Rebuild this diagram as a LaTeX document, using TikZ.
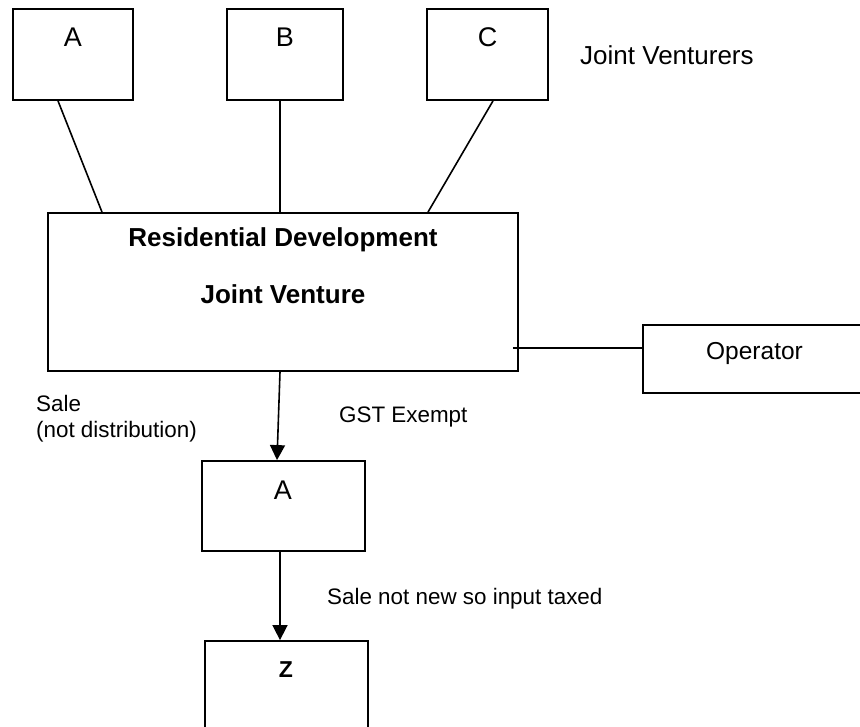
\documentclass[tikz,border=0pt]{standalone}
\usepackage{fontspec}
\setmainfont{Liberation Sans}
\usetikzlibrary{arrows.meta}
\begin{document}
\begin{tikzpicture}[x=1pt,y=-1pt,
  box/.style={draw=black, line width=1.8pt, rectangle, inner sep=0pt, fill=none},
  big/.style={font=\fontsize{27}{32}\selectfont, inner sep=0pt, anchor=base},
  jvtext/.style={font=\fontsize{26}{31}\selectfont\bfseries, inner sep=0pt, anchor=base},
  note/.style={font=\fontsize{22.4}{26}\selectfont, inner sep=0pt, anchor=base west},
  link/.style={draw=black, line width=1.6pt},
  flow/.style={link, -{Triangle[length=15pt,width=15pt]}}]
\useasboundingbox[fill=white] (0,0) rectangle (860,727);

% joint venturers
\node[box, minimum width=120pt, minimum height=91pt] (a) at (73,54.5) {};
\node[box, minimum width=116pt, minimum height=91pt] (b) at (285,54.5) {};
\node[box, minimum width=121pt, minimum height=91pt] (c) at (487.5,54.5) {};
\node[big] (aT) at (73,47) {A};
\node[big] (bT) at (285,47) {B};
\node[big] (cT) at (487.5,47) {C};
\node[font=\fontsize{26}{31}\selectfont, inner sep=0pt, anchor=base west] (jvers) at (580,65) {Joint Venturers};

% the joint venture
\node[box, minimum width=470pt, minimum height=158pt] (jv) at (283,292) {};
\node[jvtext] (jvT1) at (283,247) {Residential Development};
\node[jvtext] (jvT2) at (283,304) {Joint Venture};

% operator
\node[box, minimum width=222pt, minimum height=68pt] (op) at (754,359) {};
\node[font=\fontsize{24.5}{29}\selectfont, inner sep=0pt, anchor=base] (opT) at (754.5,360) {Operator};

% purchaser A and buyer Z
\node[box, minimum width=163pt, minimum height=90pt] (a2) at (283.5,506) {};
\node[big] (a2T) at (283,499) {A};
\node[box, minimum width=163pt, minimum height=90pt] (z) at (286.5,686) {};
\node[font=\fontsize{23}{27}\selectfont, inner sep=0pt, anchor=base] (zT) at (286,677) {\textbf{Z}};

% connectors
\draw[link] ([xshift=-15pt]a.south) -- ([xshift=-181pt]jv.north);
\draw[link] ([xshift=-5pt]b.south) -- ([xshift=-3pt]jv.north);
\draw[link] ([xshift=5.5pt]c.south) -- ([xshift=145pt]jv.north);
\draw[link] ([xshift=-6pt,yshift=-56pt]jv.east) -- ([yshift=11pt]op.west);
\draw[flow] ([xshift=-3pt]jv.south) -- ([xshift=-6.5pt]a2.north);
\draw[flow] ([xshift=-3.5pt]a2.south) -- ([xshift=-6.5pt]z.north);

% transaction notes
\node[note] (sale1) at (36,412) {Sale};
\node[note] (sale2) at (36,437) {(not distribution)};
\node[note] (gst) at (339,423) {GST Exempt};
\node[note] (resale) at (327,604) {Sale not new so input taxed};
\end{tikzpicture}
\end{document}
